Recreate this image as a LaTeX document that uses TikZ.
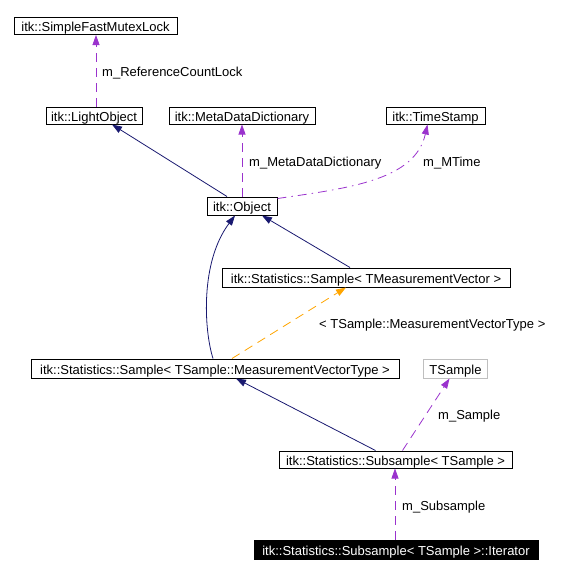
\documentclass[tikz,border=0pt]{standalone}
\usepackage{fontspec}
\setmainfont{Liberation Sans}
\usepackage{tikz}
\usetikzlibrary{arrows.meta}
\definecolor{EdgeNavy}{RGB}{25,25,112}
\definecolor{MemberPurple}{RGB}{154,50,205}
\definecolor{TmplOrange}{RGB}{255,165,0}
\definecolor{LightGrey}{RGB}{191,191,191}
\tikzset{
  classbox/.style={draw=black, line width=1pt, fill=white, minimum height=17pt, inner sep=0pt,
    text height=13pt, text depth=2pt, font=\fontsize{13}{15}\selectfont},
  greybox/.style={classbox, draw=LightGrey},
  hilitebox/.style={classbox, fill=black, text=white},
  inherit/.style={-{Triangle[length=10pt,width=7pt]}, line width=0.8pt, EdgeNavy},
  member/.style={-{Triangle[length=10pt,width=7pt]}, line width=0.8pt, MemberPurple,
    dash pattern=on 9pt off 6pt},
  memberdot/.style={member, dash pattern=on 9pt off 5pt on 1.5pt off 5pt},
  tmplarrow/.style={-{Triangle[length=10pt,width=7pt]}, line width=0.8pt, TmplOrange,
    dash pattern=on 9pt off 6pt},
  edgelabel/.style={anchor=west, inner sep=0pt, text height=13pt, text depth=2pt,
    font=\fontsize{13}{15}\selectfont},
}
\begin{document}
\begin{tikzpicture}[x=1pt, y=-1pt]
  \useasboundingbox (0,0) rectangle (564,574);
  % classes
  \node[classbox, minimum width=163pt] (mutex) at (95.5,26) {itk::SimpleFastMutexLock};
  \node[classbox, minimum width=96pt] (lightobj) at (94,115.5) {itk::LightObject};
  \node[classbox, minimum width=146pt] (metadict) at (242,115.5) {itk::MetaDataDictionary};
  \node[classbox, minimum width=99pt] (timestamp) at (435.5,115.5) {itk::TimeStamp};
  \node[classbox, minimum width=70pt, minimum height=18pt] (object) at (242,206) {itk::Object};
  \node[classbox, minimum width=288pt, minimum height=19pt] (sampletmv) at (366,277.5) {itk::Statistics::Sample< TMeasurementVector >};
  \node[classbox, minimum width=368pt, minimum height=19pt] (samplets) at (215,368.5) {itk::Statistics::Sample< TSample::MeasurementVectorType >};
  \node[greybox, minimum width=64pt, minimum height=19pt] (tsample) at (455.5,368.5) {TSample};
  \node[classbox, minimum width=233pt] (subsample) at (395.5,459.5) {itk::Statistics::Subsample< TSample >};
  \node[hilitebox, minimum width=284pt, minimum height=19pt] (iterator) at (396,549.5) {itk::Statistics::Subsample< TSample >::Iterator};
  % connectors
  \draw[member] ([xshift=2pt]lightobj.north) -- ([xshift=0.5pt]mutex.south);
  \draw[inherit] ([xshift=-15pt]object.north) -- ([xshift=18pt]lightobj.south);
  \draw[member] (object.north) -- (metadict.south);
  \draw[memberdot] ([yshift=-2pt]object.north east) .. controls (350,188) and (415,180) .. ([xshift=-8pt]timestamp.south);
  \draw[inherit] ([xshift=-16pt]sampletmv.north) -- ([xshift=20pt]object.south);
  \draw[inherit] ([xshift=-2pt]samplets.north) .. controls (204,330) and (200,262) .. ([xshift=-7pt]object.south);
  \draw[tmplarrow] ([xshift=17pt]samplets.north) -- ([xshift=-20pt]sampletmv.south);
  \draw[inherit] ([xshift=-20pt]subsample.north) -- ([xshift=21pt]samplets.south);
  \draw[member] ([xshift=7pt]subsample.north) -- ([xshift=-6pt]tsample.south);
  \draw[member] ([xshift=-1pt]iterator.north) -- ([xshift=-1pt]iterator.north |- subsample.south);
  % labels
  \node[edgelabel] (lblrefcount) at (102,70.5) {m\_ReferenceCountLock};
  \node[edgelabel] (lblmetadict) at (249,161) {m\_MetaDataDictionary};
  \node[edgelabel] (lblmtime) at (423,161) {m\_MTime};
  \node[edgelabel] (lbltmpl) at (319,323) {< TSample::MeasurementVectorType >};
  \node[edgelabel] (lblsample) at (438,414) {m\_Sample};
  \node[edgelabel] (lblsubsample) at (402,505) {m\_Subsample};
\end{tikzpicture}
\end{document}
